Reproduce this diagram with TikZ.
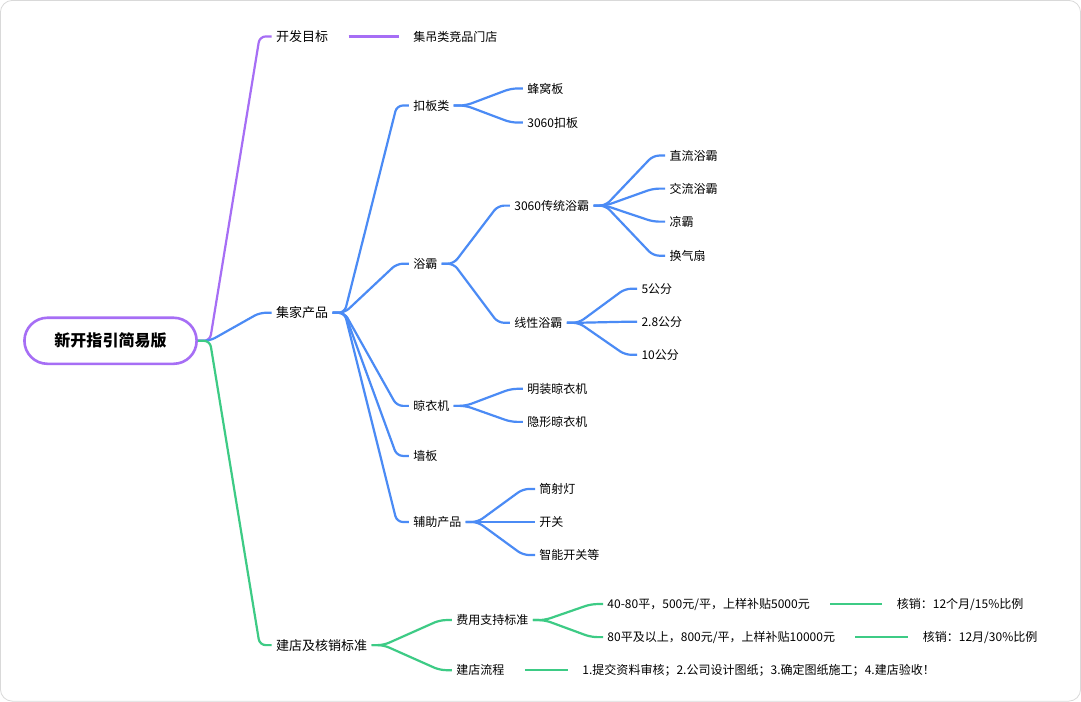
\documentclass[tikz,border=0pt]{standalone}
\usepackage{fontspec}
\setmainfont{Noto Sans CJK SC}
\usetikzlibrary{calc}
\definecolor{mpurple}{HTML}{A66EF5}
\definecolor{mblue}{HTML}{4B8BF5}
\definecolor{mgreen}{HTML}{3DCB85}
\newcommand{\fork}[3]{\draw[link,#3] (#1.east) -- ++(12,0) -- ($(#2.west)+(-12,0)$) -- (#2.west);}
\newcommand{\tail}[3]{\draw[link,#3,shorten <=8pt,shorten >=5pt] (#1.east) -- (#2.west);}
\begin{document}
\begin{tikzpicture}[x=0.5pt,y=-0.5pt,
    topic/.style={inner sep=2, font=\fontsize{6.5}{8}\selectfont},
    leaf/.style={inner sep=2, font=\fontsize{6}{7}\selectfont, anchor=west},
    link/.style={line width=1.1pt, rounded corners=3pt},
    rootbox/.style={draw=mpurple, line width=1.3pt, rounded corners=11.5, minimum width=86pt,
        minimum height=23pt, font=\fontsize{8}{10}\selectfont\bfseries}
]
\draw[black!15, fill=white, rounded corners=6pt] (1,1) rectangle (1080,701);
\node (Root) [rootbox] at (111,341) {新开指引简易版};
% level 1
\node (Goal) [topic, anchor=west] at (272,37) {开发目标};
\node (Prod) [topic, anchor=west] at (272,313) {集家产品};
\node (Shop) [topic, anchor=west] at (272,645) {建店及核销标准};
% goal
\node (Rival) [leaf] at (409,37) {集吊类竞品门店};
% products
\node (Panel) [leaf] at (409,106) {扣板类};
\node (Bath) [leaf] at (409,264) {浴霸};
\node (Dryer) [leaf] at (409,406) {晾衣机};
\node (Wall) [leaf] at (409,456) {墙板};
\node (Aux) [leaf] at (409,522) {辅助产品};
\node (Honey) [leaf] at (523,89) {蜂窝板};
\node (Clip) [leaf] at (523,123) {3060扣板};
\node (Trad) [leaf] at (510,206) {3060传统浴霸};
\node (Line) [leaf] at (510,323) {线性浴霸};
\node (DC) [leaf] at (665,156) {直流浴霸};
\node (AC) [leaf] at (665,189) {交流浴霸};
\node (Cool) [leaf] at (665,222) {凉霸};
\node (Fan) [leaf] at (665,256) {换气扇};
\node (Five) [leaf] at (637,289) {5公分};
\node (TwoEight) [leaf] at (637,322) {2.8公分};
\node (Ten) [leaf] at (637,355) {10公分};
\node (Open) [leaf] at (523,389) {明装晾衣机};
\node (Hide) [leaf] at (523,422) {隐形晾衣机};
\node (Lamp) [leaf] at (535,489) {筒射灯};
\node (Switch) [leaf] at (535,522) {开关};
\node (Smart) [leaf] at (535,555) {智能开关等};
% shop
\node (Fee) [leaf] at (452,620) {费用支持标准};
\node (Flow) [leaf] at (452,670) {建店流程};
\node (FeeA) [leaf] at (603,604) {40-80平，500元/平，上样补贴5000元};
\node (FeeB) [leaf] at (603,637) {80平及以上，800元/平，上样补贴10000元};
\node (CheckA) [leaf] at (892,604) {核销：12个月/15\%比例};
\node (CheckB) [leaf] at (918,637) {核销：12月/30\%比例};
\node (Steps) [leaf] at (578,670) {1.提交资料审核；2.公司设计图纸；3.确定图纸施工；4.建店验收！};
% connectors
\fork{Root}{Goal}{mpurple}
\fork{Root}{Prod}{mblue}
\fork{Root}{Shop}{mgreen}
\tail{Goal}{Rival}{mpurple}
\foreach \c in {Panel,Bath,Dryer,Wall,Aux} {\fork{Prod}{\c}{mblue}}
\fork{Panel}{Honey}{mblue}
\fork{Panel}{Clip}{mblue}
\fork{Bath}{Trad}{mblue}
\fork{Bath}{Line}{mblue}
\foreach \c in {DC,AC,Cool,Fan} {\fork{Trad}{\c}{mblue}}
\foreach \c in {Five,TwoEight,Ten} {\fork{Line}{\c}{mblue}}
\fork{Dryer}{Open}{mblue}
\fork{Dryer}{Hide}{mblue}
\foreach \c in {Lamp,Switch,Smart} {\fork{Aux}{\c}{mblue}}
\fork{Shop}{Fee}{mgreen}
\fork{Shop}{Flow}{mgreen}
\fork{Fee}{FeeA}{mgreen}
\fork{Fee}{FeeB}{mgreen}
\tail{FeeA}{CheckA}{mgreen}
\tail{FeeB}{CheckB}{mgreen}
\tail{Flow}{Steps}{mgreen}
\end{tikzpicture}
\end{document}
